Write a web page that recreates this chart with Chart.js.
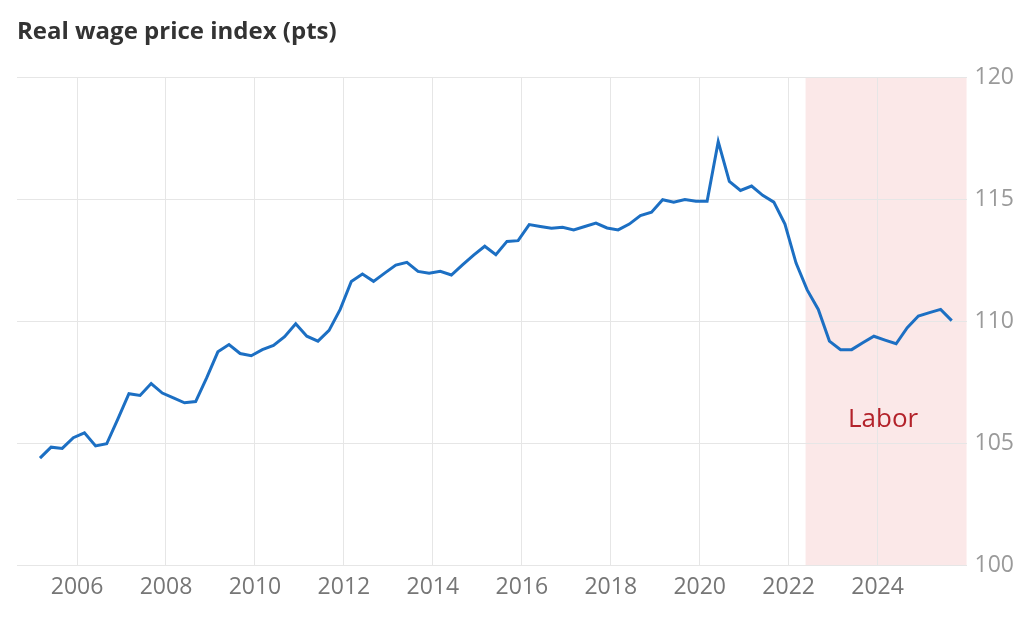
<!DOCTYPE html>
<html>
<head>
<meta charset="utf-8">
<script src="https://cdn.jsdelivr.net/npm/chart.js@4.4.1/dist/chart.umd.min.js"></script>
<style>
  html, body { margin: 0; padding: 0; background: #ffffff; }
  #wrap { position: relative; width: 1024px; height: 620px; }
</style>
</head>
<body>
<div id="wrap"><canvas id="c" width="1024" height="620"></canvas></div>
<script>
// Quarter labels (quarter-end months)
const quarterLabels = [
  'Mar 2005','Jun 2005','Sep 2005','Dec 2005',
  'Mar 2006','Jun 2006','Sep 2006','Dec 2006',
  'Mar 2007','Jun 2007','Sep 2007','Dec 2007',
  'Mar 2008','Jun 2008','Sep 2008','Dec 2008',
  'Mar 2009','Jun 2009','Sep 2009','Dec 2009',
  'Mar 2010','Jun 2010','Sep 2010','Dec 2010',
  'Mar 2011','Jun 2011','Sep 2011','Dec 2011',
  'Mar 2012','Jun 2012','Sep 2012','Dec 2012',
  'Mar 2013','Jun 2013','Sep 2013','Dec 2013',
  'Mar 2014','Jun 2014','Sep 2014','Dec 2014',
  'Mar 2015','Jun 2015','Sep 2015','Dec 2015',
  'Mar 2016','Jun 2016','Sep 2016','Dec 2016',
  'Mar 2017','Jun 2017','Sep 2017','Dec 2017',
  'Mar 2018','Jun 2018','Sep 2018','Dec 2018',
  'Mar 2019','Jun 2019','Sep 2019','Dec 2019',
  'Mar 2020','Jun 2020','Sep 2020','Dec 2020',
  'Mar 2021','Jun 2021','Sep 2021','Dec 2021',
  'Mar 2022','Jun 2022','Sep 2022','Dec 2022',
  'Mar 2023','Jun 2023','Sep 2023','Dec 2023',
  'Mar 2024','Jun 2024','Sep 2024','Dec 2024',
  'Mar 2025','Jun 2025','Sep 2025'
];

// Real wage price index (pts)
const realWageIndex = [
  104.40, 104.85, 104.80, 105.24,
  105.44, 104.90, 104.99, 106.00,
  107.04, 106.97, 107.46, 107.07,
  106.87, 106.67, 106.72, 107.70,
  108.76, 109.06, 108.69, 108.60,
  108.85, 109.02, 109.38, 109.91,
  109.40, 109.20, 109.64, 110.50,
  111.65, 111.95, 111.65, 111.99,
  112.32, 112.43, 112.06, 111.98,
  112.06, 111.91, 112.33, 112.73,
  113.09, 112.74, 113.29, 113.32,
  113.98, 113.90, 113.83, 113.87,
  113.76, 113.90, 114.04, 113.84,
  113.76, 114.00, 114.35, 114.49,
  115.00, 114.90, 115.01, 114.94,
  114.94, 117.38, 115.75, 115.38,
  115.56, 115.18, 114.90, 114.00,
  112.40, 111.30, 110.50, 109.20,
  108.85, 108.85, 109.13, 109.40,
  109.24, 109.09, 109.75, 110.23,
  110.37, 110.50, 110.04
];

const xTickYears = [2006, 2008, 2010, 2012, 2014, 2016, 2018, 2020, 2022, 2024];
const yTickValues = [100, 105, 110, 115, 120];

const labor = { label: 'Labor', start: 2022.38, end: 2026.0 };
const xRange = { min: 2004.65, max: 2026.0 };

const monthIndex = { Mar: 3, Jun: 6, Sep: 9, Dec: 12 };
function labelToYear(lbl) {
  const [m, y] = lbl.split(' ');
  return parseInt(y, 10) + (monthIndex[m] - 1) / 12;
}
const points = quarterLabels.map((l, i) => ({ x: labelToYear(l), y: realWageIndex[i] }));

const FONT = "'Open Sans', 'Noto Sans', sans-serif";

const shadePlugin = {
  id: 'laborShade',
  beforeDraw(chart) {
    const { ctx, chartArea, scales } = chart;
    const x0 = scales.x.getPixelForValue(labor.start);
    const x1 = scales.x.getPixelForValue(labor.end);
    ctx.save();
    ctx.fillStyle = '#fbe8e8';
    ctx.fillRect(x0, chartArea.top, x1 - x0, chartArea.bottom - chartArea.top);
    ctx.restore();
  },
  afterDatasetsDraw(chart) {
    const { ctx, scales } = chart;
    const x0 = scales.x.getPixelForValue(labor.start);
    const x1 = scales.x.getPixelForValue(labor.end);
    const y = scales.y.getPixelForValue(106);
    ctx.save();
    ctx.font = "26px " + FONT;
    ctx.fillStyle = '#b3222a';
    ctx.textAlign = 'center';
    ctx.textBaseline = 'middle';
    ctx.fillText(labor.label, (x0 + x1) / 2 - 3, y);
    ctx.restore();
  }
};

new Chart(document.getElementById('c'), {
  type: 'line',
  data: {
    datasets: [{
      label: 'Real wage price index',
      data: points,
      borderColor: '#1c6fc3',
      borderWidth: 3,
      pointRadius: 0,
      tension: 0,
      fill: false
    }]
  },
  options: {
    responsive: false,
    animation: false,
    layout: { padding: { left: 17, right: 2, top: 0, bottom: 11 } },
    plugins: {
      legend: { display: false },
      tooltip: { enabled: false },
      title: {
        display: true,
        text: 'Real wage price index (pts)',
        align: 'start',
        color: '#333333',
        font: { family: FONT, size: 24, weight: 'bold' },
        padding: { top: 18, bottom: 31 }
      }
    },
    scales: {
      x: {
        type: 'linear',
        min: xRange.min,
        max: xRange.max,
        afterBuildTicks(scale) { scale.ticks = xTickYears.map(v => ({ value: v })); },
        ticks: {
          color: '#767676',
          font: { family: FONT, size: 23 },
          padding: 8,
          maxRotation: 0,
          autoSkip: false,
          callback: (v) => String(v)
        },
        grid: { color: '#e6e6e6', lineWidth: 1, drawTicks: false },
        border: { display: false }
      },
      y: {
        position: 'right',
        min: 100,
        max: 120,
        afterBuildTicks(scale) { scale.ticks = yTickValues.map(v => ({ value: v })); },
        ticks: {
          color: '#9a9a9a',
          font: { family: FONT, size: 23 },
          padding: 8,
          callback: (v) => String(v)
        },
        grid: { color: '#e6e6e6', lineWidth: 1, drawTicks: false },
        border: { display: false }
      }
    }
  },
  plugins: [shadePlugin]
});
</script>
</body>
</html>
